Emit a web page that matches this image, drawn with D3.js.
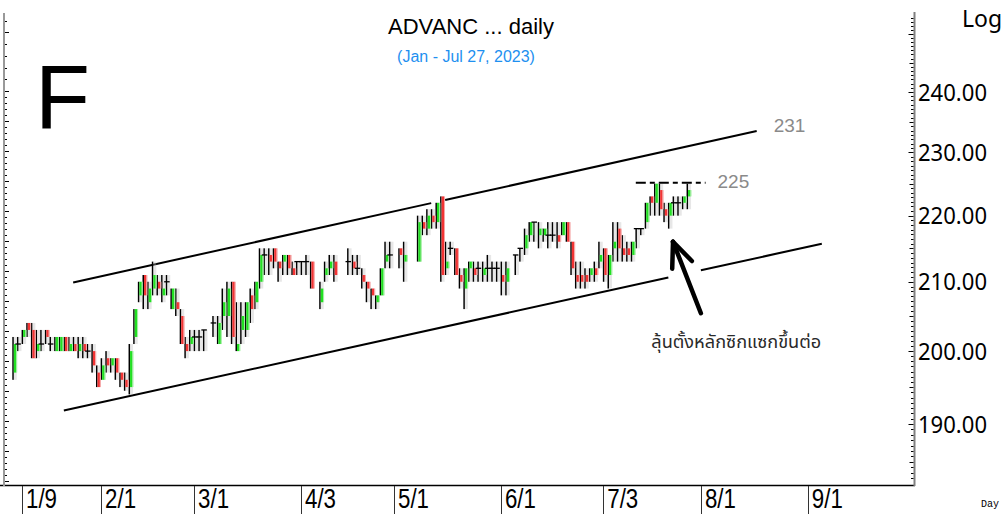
<!DOCTYPE html>
<html><head><meta charset="utf-8">
<script src="https://cdn.jsdelivr.net/npm/d3@7"></script>
<style>html,body{margin:0;padding:0;background:#fff;overflow:hidden}</style>
</head><body><svg id="c" width="1003" height="514"></svg>
<script>
// ---------------- data ----------------
const dates = [
"2023-01-05","2023-01-06","2023-01-09","2023-01-10","2023-01-11","2023-01-12","2023-01-13","2023-01-16","2023-01-17","2023-01-18","2023-01-19","2023-01-20","2023-01-23","2023-01-24","2023-01-25","2023-01-26","2023-01-27","2023-01-30","2023-01-31",
"2023-02-01","2023-02-02","2023-02-03","2023-02-06","2023-02-07","2023-02-08","2023-02-09","2023-02-10","2023-02-13","2023-02-14","2023-02-15","2023-02-16","2023-02-17","2023-02-20","2023-02-21","2023-02-22","2023-02-23","2023-02-24","2023-02-27","2023-02-28",
"2023-03-01","2023-03-02","2023-03-03","2023-03-07","2023-03-08","2023-03-09","2023-03-10","2023-03-13","2023-03-14","2023-03-15","2023-03-16","2023-03-17","2023-03-20","2023-03-21","2023-03-22","2023-03-23","2023-03-24","2023-03-27","2023-03-28","2023-03-29","2023-03-30","2023-03-31",
"2023-04-03","2023-04-04","2023-04-05","2023-04-07","2023-04-10","2023-04-11","2023-04-12","2023-04-17","2023-04-18","2023-04-19","2023-04-20","2023-04-21","2023-04-24","2023-04-25","2023-04-26","2023-04-27","2023-04-28",
"2023-05-02","2023-05-03","2023-05-08","2023-05-09","2023-05-10","2023-05-11","2023-05-12","2023-05-15","2023-05-16","2023-05-17","2023-05-18","2023-05-19","2023-05-22","2023-05-23","2023-05-24","2023-05-25","2023-05-26","2023-05-29","2023-05-30","2023-05-31",
"2023-06-01","2023-06-02","2023-06-06","2023-06-07","2023-06-08","2023-06-09","2023-06-12","2023-06-13","2023-06-14","2023-06-15","2023-06-16","2023-06-19","2023-06-20","2023-06-21","2023-06-22","2023-06-23","2023-06-26","2023-06-27","2023-06-28","2023-06-29","2023-06-30",
"2023-07-03","2023-07-04","2023-07-05","2023-07-06","2023-07-07","2023-07-10","2023-07-11","2023-07-12","2023-07-13","2023-07-14","2023-07-17","2023-07-18","2023-07-19","2023-07-20","2023-07-21","2023-07-24","2023-07-25","2023-07-26","2023-07-27"];

const openP = [
197,201,202,204,203,200,201,203,201,200,200,202,200,201,200,201,200,200,197,
196,199,198,199,197,196,195,202,208,211,207,209,210,208,210,206,207,205,201,201,
202,202,203,204,201,205,205,210,200,203,203,208,207,210,214,214,215,213,213,214,212,213,
213,213,213,207,211,212,213,213,213,212,211,210,209,207,208,213,214,
215,213,213,219,218,220,219,223,212,215,215,211,209,212,212,212,211,212,212,212,
211,210,214,215,215,217,219,217,217,217,217,217,217,219,216,211,211,211,211,212,213,
215,211,215,218,215,215,214,218,218,219,223,222,224,221,220,222,222,222,223];
const highP = [
202,202,203,204,204,203,203,203,202,202,202,202,202,202,202,202,201,201,198,
199,200,199,199,197,197,201,206,210,211,210,213,211,211,211,209,209,206,202,203,
203,203,203,205,205,209,210,210,207,207,207,209,210,215,215,215,215,213,214,214,213,213,
213,214,213,210,213,214,214,215,214,214,212,210,209,208,212,216,216,
215,216,220,220,221,221,222,223,216,216,215,212,212,213,213,213,213,214,213,213,
213,213,214,215,218,219,219,219,218,219,219,219,219,219,216,213,213,212,212,213,216,
215,214,219,219,217,216,216,218,218,222,223,225,225,222,222,223,223,223,225];
const lowP = [
196,200,201,202,199,199,200,201,200,200,200,200,200,200,199,199,199,197,195,
196,197,197,196,195,194.5,194,201,207,206,206,208,208,207,208,206,205,201,199,200,
200,200,200,202,201,203,202,201,200,201,202,204,206,209,211,211,212,210,211,211,211,211,
211,211,209,206,210,211,210,211,211,211,209,207,206,206,208,212,212,
212,210,213,217,217,218,218,210,211,214,211,209,206,210,210,210,210,210,210,210,
208,208,211,213,214,216,216,215,216,215,216,215,217,216,211,209,209,209,210,210,212,
210,209,213,213,213,213,213,215,217,218,220,220,220,219,218,220,220,221,221];
const closeP = [
201,201,203,203,199,201,201,202,201,202,202,200,201,200,201,200,200,198,195,
198,198,199,197,196,195,200,206,210,208,209,211,209,209,210,209,206,201,200,202,
202,202,203,204,204,207,209,202,201,205,207,206,210,214,214,213,213,212,214,212,211,213,
213,213,209,209,212,213,211,213,212,212,210,209,208,208,212,214,214,
214,214,219,218,220,219,222,211,213,215,211,210,212,213,211,212,212,212,212,212,
210,212,214,215,217,219,219,218,218,217,217,216,219,216,212,210,210,210,212,211,214,
211,214,216,215,214,214,216,218,218,222,222,225,221,220,222,222,222,223,224];

const tickDates  = ["2023-01-09","2023-02-01","2023-03-01","2023-04-03","2023-05-01","2023-06-01","2023-07-03","2023-08-01","2023-09-01"];
const tickLabels = ["1/9","2/1","3/1","4/3","5/1","6/1","7/3","8/1","9/1"];
const priceTicks = [190,200,210,220,230,240];

const upperLine  = {start:["2023-01-24",209.9], end:["2023-08-17",233.5], gap:["2023-05-11","2023-05-16"], label:"231"};
const lowerLine  = {start:["2023-01-20",191.8], end:["2023-09-06",215.7], gap:["2023-07-21","2023-08-01"]};
const resistance = {from:"2023-07-12", to:"2023-08-02", price:225, label:"225"};
const arrowPts   = {tip:["2023-07-24",216], tail:["2023-08-01",205.4]};
const note       = {date:"2023-07-17", price:200.4, text:"ลุ้นตั้งหลักซิกแซกขึ้นต่อ"};

// ---------------- scales ----------------
const W = 1003, H = 514;
const svg = d3.select("#c");
svg.append("rect").attr("width",W).attr("height",H).attr("fill","#fff");

function wk(s){
  const t = Date.UTC(+s.slice(0,4), +s.slice(5,7)-1, +s.slice(8,10));
  let n = 0;
  for (let u = Date.UTC(2023,0,2); u < t; u += 86400000){
    const w = new Date(u).getUTCDay(); if (w!==0 && w!==6) n++;
  }
  return n;
}
const xs = d3.scaleLinear().domain([0,174]).range([-1.25,807.85]);
const X = s => xs(wk(s));
const Y = d3.scaleLog().domain([190,240]).range([424,92]);

// clip
svg.append("clipPath").attr("id","pc").append("rect").attr("x",6).attr("y",0).attr("width",907).attr("height",484);

// ---------------- axes ----------------
svg.append("line").attr("x1",0).attr("x2",915).attr("y1",485.5).attr("y2",485.5).attr("stroke","#000").attr("stroke-width",1.5);
svg.append("line").attr("x1",914.5).attr("x2",914.5).attr("y1",12).attr("y2",486).attr("stroke","#808080").attr("stroke-width",2);
const minor = [];
for (let v=170; v<260; v+=10){ for (let i=0;i<14;i++){ minor.push({v:v+i*10/14, kind: i===0?2:(i===7?1:0)}); } }
svg.append("g").selectAll("line").data(minor.filter(d=>Y(d.v)>=14 && Y(d.v)<=484)).join("line")
  .attr("x1",d=>913.5-(d.kind===2?5:(d.kind===1?4:2.5))).attr("x2",913.5)
  .attr("y1",d=>Math.round(Y(d.v))+0.5).attr("y2",d=>Math.round(Y(d.v))+0.5)
  .attr("stroke","#000").attr("stroke-width",1);
svg.append("g").selectAll("text").data(priceTicks).join("text")
  .attr("x",918).attr("y",d=>Y(d)+8.5)
  .attr("font-family","'Noto Sans', 'DejaVu Sans', sans-serif").attr("font-size",24)
  .attr("textLength",69).attr("lengthAdjust","spacingAndGlyphs")
  .attr("fill","#000").text(d=>d3.format(".2f")(d));
svg.append("text").attr("x",962).attr("y",27).attr("font-family","'Noto Sans', sans-serif").attr("font-size",23).attr("fill","#000").text("Log");
svg.append("text").attr("x",981).attr("y",507).attr("font-family","'Liberation Mono', monospace").attr("font-size",10).attr("fill","#000").text("Day");

// left axis
svg.append("line").attr("x1",4).attr("x2",4).attr("y1",13).attr("y2",486).attr("stroke","#999").attr("stroke-width",2);
const lt = [];
for (let y=20.7; y<90; y+=11.7) lt.push({y, big: Math.abs(y-32.4)<1});
for (let j=0, y=90.7; y<484; y+=6, j++) lt.push({y, big: j%5===0});
svg.append("g").selectAll("line").data(lt).join("line")
  .attr("x1",5).attr("x2",d=>d.big?9:7).attr("y1",d=>Math.round(d.y)+0.5).attr("y2",d=>Math.round(d.y)+0.5)
  .attr("stroke","#000").attr("stroke-width",1);

// bottom ticks
const xt = svg.append("g");
xt.selectAll("line").data(tickDates).join("line")
  .attr("x1",d=>Math.round(X(d))+0.5).attr("x2",d=>Math.round(X(d))+0.5).attr("y1",486).attr("y2",514)
  .attr("stroke","#333").attr("stroke-width",1);
xt.selectAll("text").data(tickDates).join("text")
  .attr("x",d=>X(d)+4).attr("y",508)
  .attr("font-family","'Liberation Sans', Arial, sans-serif").attr("font-size",28)
  .attr("textLength",31).attr("lengthAdjust","spacingAndGlyphs")
  .attr("fill","#000").text((d,i)=>tickLabels[i]);

// ---------------- titles ----------------
svg.append("text").attr("x",471).attr("y",34).attr("text-anchor","middle")
  .attr("font-family","'Liberation Sans', Arial, sans-serif").attr("font-size",22).attr("fill","#000").text("ADVANC ... daily");
svg.append("text").attr("x",466).attr("y",62).attr("text-anchor","middle")
  .attr("font-family","'Liberation Sans', Arial, sans-serif").attr("font-size",16).attr("fill","#1e90f0").text("(Jan - Jul 27, 2023)");
svg.append("text").attr("x",35).attr("y",128)
  .attr("font-family","'Liberation Sans', Arial, sans-serif").attr("font-size",90).attr("fill","#000").text("F");

// ---------------- plot ----------------
const plot = svg.append("g").attr("clip-path","url(#pc)");

function segLine(L, g){
  const x1=X(L.start[0]), y1=Y(L.start[1]), x2=X(L.end[0]), y2=Y(L.end[1]);
  const at = x => y1 + (y2-y1)*(x-x1)/(x2-x1);
  const gx1 = X(L.gap[0]), gx2 = X(L.gap[1]);
  const segs = [[x1,gx1],[gx2,x2]];
  g.selectAll(null).data(segs).join("line")
    .attr("x1",d=>d[0]).attr("y1",d=>at(d[0])).attr("x2",d=>d[1]).attr("y2",d=>at(d[1]))
    .attr("stroke","#000").attr("stroke-width",2);
}
segLine(upperLine, plot);
segLine(lowerLine, plot);

// candles
const data = dates.map((d,i)=>({x:X(d), o:openP[i], h:highP[i], l:lowP[i], c:closeP[i]}));
const cg = plot.append("g");
cg.selectAll("rect.w").data(data).join("rect").attr("class","w")
  .attr("x",d=>d.x-0.4).attr("width",1.5)
  .attr("y",d=>Y(d.h)).attr("height",d=>Math.max(1,Y(d.l)-Y(d.h))).attr("fill","#000");
cg.selectAll("rect.s").data(data).join("rect").attr("class","s")
  .attr("x",d=>d.x+1.1).attr("width",3)
  .attr("y",d=>Y(d.h)).attr("height",d=>Math.max(1,Y(d.l)-Y(d.h))).attr("fill","#bbb").attr("opacity",0.35);
const bodies = data.filter(d=>d.o!==d.c);
cg.selectAll("rect.b").data(bodies).join("rect").attr("class","b")
  .attr("x",d=>d.x+1.1).attr("width",2.4)
  .attr("y",d=>Y(Math.max(d.o,d.c))).attr("height",d=>Math.abs(Y(d.o)-Y(d.c)))
  .attr("fill",d=>d.c>d.o?"#22e022":"#f23434");
cg.selectAll("rect.e").data(bodies).join("rect").attr("class","e")
  .attr("x",d=>d.x+3.5).attr("width",1)
  .attr("y",d=>Y(Math.max(d.o,d.c))).attr("height",d=>Math.abs(Y(d.o)-Y(d.c)))
  .attr("fill",d=>d.c>d.o?"#9cf09c":"#f7a4a4");
cg.selectAll("line.d").data(data.filter(d=>d.o===d.c)).join("line").attr("class","d")
  .attr("x1",d=>d.x-2).attr("x2",d=>d.x+3.5).attr("y1",d=>Y(d.o)).attr("y2",d=>Y(d.o))
  .attr("stroke","#000").attr("stroke-width",1.3);

// resistance dashed line
plot.append("line").attr("x1",X(resistance.from)).attr("x2",X(resistance.to))
  .attr("y1",Y(resistance.price)-1).attr("y2",Y(resistance.price)-1)
  .attr("stroke","#000").attr("stroke-width",2).attr("stroke-dasharray","10,4,5,4");

// labels on lines
svg.append("text").attr("x",X(upperLine.end[0])+17).attr("y",Y(upperLine.end[1])-6)
  .attr("dominant-baseline","central").attr("font-family","'Liberation Sans', Arial, sans-serif").attr("font-size",19)
  .attr("fill","#8a8a8a").text(upperLine.label);
svg.append("text").attr("x",X(resistance.to)+12).attr("y",Y(resistance.price)-2.5)
  .attr("dominant-baseline","central").attr("font-family","'Liberation Sans', Arial, sans-serif").attr("font-size",19)
  .attr("fill","#8a8a8a").text(resistance.label);

// arrow
const tx=X(arrowPts.tip[0]), ty=Y(arrowPts.tip[1]), sx=X(arrowPts.tail[0]), sy=Y(arrowPts.tail[1]);
const ang = Math.atan2(sy-ty, sx-tx), bl = 27, spread = 23*Math.PI/180;
const ag = svg.append("g").attr("stroke","#000").attr("stroke-width",4.5).attr("stroke-linecap","round");
ag.append("line").attr("x1",sx).attr("y1",sy).attr("x2",tx).attr("y2",ty);
[ -spread, spread ].forEach(a=>{
  ag.append("line").attr("x1",tx).attr("y1",ty).attr("x2",tx+bl*Math.cos(ang+a)).attr("y2",ty+bl*Math.sin(ang+a));
});

// note text
svg.append("text").attr("x",X(note.date)+1.5).attr("y",Y(note.price))
  .attr("font-family","'Noto Sans Thai','Noto Sans Thai UI',Tahoma,'Noto Sans',sans-serif").attr("font-size",18)
  .attr("textLength",170).attr("lengthAdjust","spacingAndGlyphs")
  .attr("fill","#2a2a2a").text(note.text);
</script></body></html>
